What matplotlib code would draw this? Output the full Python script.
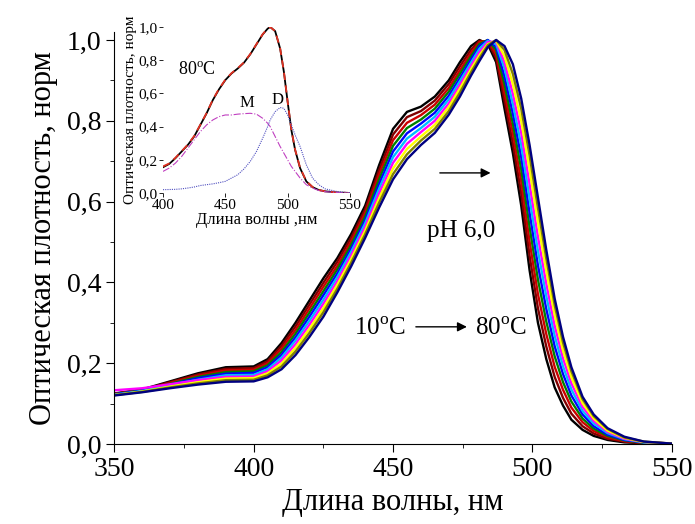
import matplotlib
matplotlib.use("Agg")
import matplotlib.pyplot as plt
from matplotlib.ticker import MultipleLocator, FuncFormatter

# ------------------------------
# Data
# ------------------------------
wl = [350, 360, 370, 380, 390, 400, 405, 410, 415, 420, 425, 430, 435, 440, 445,
      450, 455, 460, 465, 470, 474, 478, 481, 484, 487, 490, 493, 496, 499, 502,
      505, 508, 511, 514, 518, 522, 527, 533, 540, 550]

spec_01 = [.125, .135, .155, .175, .19, .192, .21, .25, .30, .355, .41, .46, .52, .59, .69,
           .78, .822, .835, .86, .90, .945, .985, 1.0, .99, .945, .83, .72, .59, .43, .30,
           .21, .14, .095, .06, .035, .02, .01, .004, .002, 0]
spec_02 = [.124, .134, .153, .172, .186, .188, .205, .243, .291, .345, .399, .451, .511, .581, .678,
           .766, .809, .824, .850, .891, .935, .976, .998, .995, .955, .85, .744, .62, .466, .336,
           .241, .166, .114, .075, .044, .026, .013, .006, .002, 0]
spec_03 = [.124, .133, .151, .169, .182, .184, .200, .236, .282, .335, .389, .441, .502, .572, .667,
           .752, .795, .814, .840, .881, .925, .968, .995, .998, .965, .87, .769, .65, .501, .371,
           .272, .191, .134, .09, .054, .032, .017, .007, .003, 0]
spec_04 = [.123, .133, .149, .166, .178, .180, .195, .228, .273, .325, .378, .432, .493, .563, .655,
           .738, .782, .803, .830, .872, .916, .960, .99, 1.0, .975, .89, .793, .68, .537, .407,
           .303, .217, .153, .105, .063, .038, .020, .009, .003, 0]
spec_05 = [.123, .132, .147, .163, .174, .176, .190, .221, .264, .315, .368, .422, .484, .554, .643,
           .724, .769, .793, .820, .862, .906, .952, .985, 1.0, .983, .91, .818, .71, .572, .442,
           .334, .242, .173, .12, .073, .044, .023, .010, .004, 0]
spec_06 = [.122, .131, .146, .159, .170, .171, .185, .214, .256, .305, .357, .413, .476, .546, .632,
           .710, .756, .782, .810, .853, .898, .944, .978, .998, .99, .93, .842, .74, .608, .478,
           .366, .268, .192, .135, .082, .051, .027, .012, .004, .001]
spec_07 = [.133, .138, .148, .158, .166, .167, .180, .207, .247, .295, .347, .403, .467, .537, .620,
           .696, .743, .772, .800, .843, .889, .936, .97, .995, .996, .945, .867, .77, .643, .513,
           .397, .293, .212, .15, .092, .057, .030, .013, .005, .001]
spec_08 = [.121, .130, .142, .153, .162, .163, .175, .199, .238, .285, .336, .394, .458, .528, .608,
           .682, .730, .761, .790, .834, .880, .928, .962, .99, .998, .96, .891, .80, .679, .549,
           .428, .319, .231, .165, .101, .063, .033, .015, .005, .001]
spec_09 = [.121, .129, .140, .150, .158, .159, .170, .192, .229, .275, .326, .384, .449, .519, .597,
           .668, .717, .751, .780, .824, .870, .920, .955, .987, 1.0, .975, .916, .83, .714, .584,
           .459, .344, .251, .18, .111, .069, .037, .016, .006, .001]
spec_10 = [.12, .128, .138, .147, .154, .155, .165, .185, .22, .265, .315, .375, .44, .51, .585,
           .655, .705, .74, .77, .815, .86, .912, .948, .982, 1.0, .985, .94, .855, .74, .61,
           .48, .36, .265, .19, .117, .073, .039, .018, .006, .001]

spectra = [spec_01, spec_02, spec_03, spec_04, spec_05,
           spec_06, spec_07, spec_08, spec_09, spec_10]
colors = ['black', '#800000', '#CC0000', '#008000', '#0000FF',
          '#00BFFF', '#FF00FF', '#FFFF00', '#808000', '#000080']

# inset: 80 C decomposition
wl_in = [400, 405, 410, 415, 420, 425, 430, 435, 440, 445, 450, 455, 460, 465, 470,
         475, 480, 484, 486, 490, 494, 497, 500, 503, 506, 510, 515, 520, 525, 530,
         540, 550]
total_80 = [.155, .175, .21, .25, .29, .34, .41, .48, .56, .625, .68, .72, .75, .785, .835,
            .895, .955, .99, 1.0, .975, .87, .73, .55, .38, .26, .15, .07, .035, .018, .01,
            .003, 0]
fit_80 = [.16, .178, .212, .252, .292, .343, .412, .482, .562, .628, .682, .722, .752, .787, .837,
          .897, .957, .99, 1.0, .975, .872, .732, .552, .382, .262, .152, .072, .036, .018, .01,
          .003, 0]
mono_80 = [.13, .15, .18, .22, .27, .32, .37, .41, .44, .46, .47, .47, .475, .478, .48,
           .475, .45, .42, .40, .34, .28, .24, .20, .16, .13, .09, .05, .03, .015, .008,
           .003, 0]
dimer_80 = [.02, .021, .022, .025, .03, .036, .045, .05, .055, .062, .07, .09, .11, .145, .19,
            .25, .33, .40, .44, .49, .515, .51, .47, .41, .35, .28, .17, .09, .05, .025,
            .008, .002]

# ------------------------------
# Plot
# ------------------------------
plt.rcParams['font.family'] = ['Liberation Serif', 'DejaVu Serif']
plt.rcParams['mathtext.fontset'] = 'custom'
plt.rcParams['mathtext.rm'] = 'Liberation Serif'

comma = FuncFormatter(lambda v, p: ('%.1f' % v).replace('.', ','))

fig = plt.figure(figsize=(6.95, 5.24), dpi=100)
ax = fig.add_axes([0.1645, 0.1527, 0.802, 0.7864])

for s, c in zip(spectra, colors):
    ax.plot(wl, s, color=c, lw=1.7, solid_joinstyle='round')

ax.set_xlim(350, 550)
ax.set_ylim(0, 1.02)
ax.spines['top'].set_visible(False)
ax.spines['right'].set_visible(False)
ax.xaxis.set_major_locator(MultipleLocator(50))
ax.xaxis.set_minor_locator(MultipleLocator(25))
ax.yaxis.set_major_locator(MultipleLocator(0.2))
ax.yaxis.set_minor_locator(MultipleLocator(0.1))
ax.yaxis.set_major_formatter(comma)
ax.tick_params(which='major', direction='out', length=6, labelsize=20)
ax.tick_params(which='minor', direction='out', length=3)
ax.set_xlabel('Длина волны, нм', fontsize=22, labelpad=4)
ax.set_ylabel('Оптическая плотность, норм', fontsize=22, labelpad=6)

ax.annotate('', xy=(486, 0.671), xytext=(465.8, 0.671),
            arrowprops=dict(arrowstyle='-|>', color='black', lw=1, mutation_scale=14))
ax.text(474.5, 0.527, 'pH 6,0', fontsize=18, ha='center', va='center')
ax.text(445.3, 0.285, '10$^\\mathrm{o}$C', fontsize=18, ha='center', va='center')
ax.annotate('', xy=(477.5, 0.29), xytext=(457.2, 0.29),
            arrowprops=dict(arrowstyle='-|>', color='black', lw=1, mutation_scale=14))
ax.text(488.6, 0.285, '80$^\\mathrm{o}$C', fontsize=18, ha='center', va='center')

# inset
axi = fig.add_axes([0.2345, 0.6317, 0.269, 0.3168])
axi.plot(wl_in, total_80, color='black', lw=1.3)
axi.plot(wl_in, fit_80, color='#E03020', lw=1.3, ls=(0, (4, 3)))
axi.plot(wl_in, mono_80, color='#C040C0', lw=0.8, ls='-.')
axi.plot(wl_in, dimer_80, color='#5050C0', lw=0.8, ls=(0, (1, 1)))
axi.set_xlim(400, 550)
axi.set_ylim(0, 1.0)
for sp in axi.spines.values():
    sp.set_visible(False)
axi.patch.set_alpha(0)
axi.xaxis.set_major_locator(MultipleLocator(50))
axi.yaxis.set_major_locator(MultipleLocator(0.2))
axi.yaxis.set_major_formatter(comma)
axi.tick_params(direction='out', length=3, width=0.6, labelsize=11, pad=1)
axi.set_xlabel('Длина волны ,нм', fontsize=12, labelpad=0.5)
axi.set_ylabel('Оптическая плотность, норм', fontsize=11, labelpad=1)
axi.text(427, 0.74, '80$^\\mathrm{o}$C', fontsize=13, ha='center', va='center')
axi.text(467.5, 0.54, 'M', fontsize=12, ha='center', va='center')
axi.text(492, 0.56, 'D', fontsize=12, ha='center', va='center')

fig.savefig('out.png', dpi=100)
